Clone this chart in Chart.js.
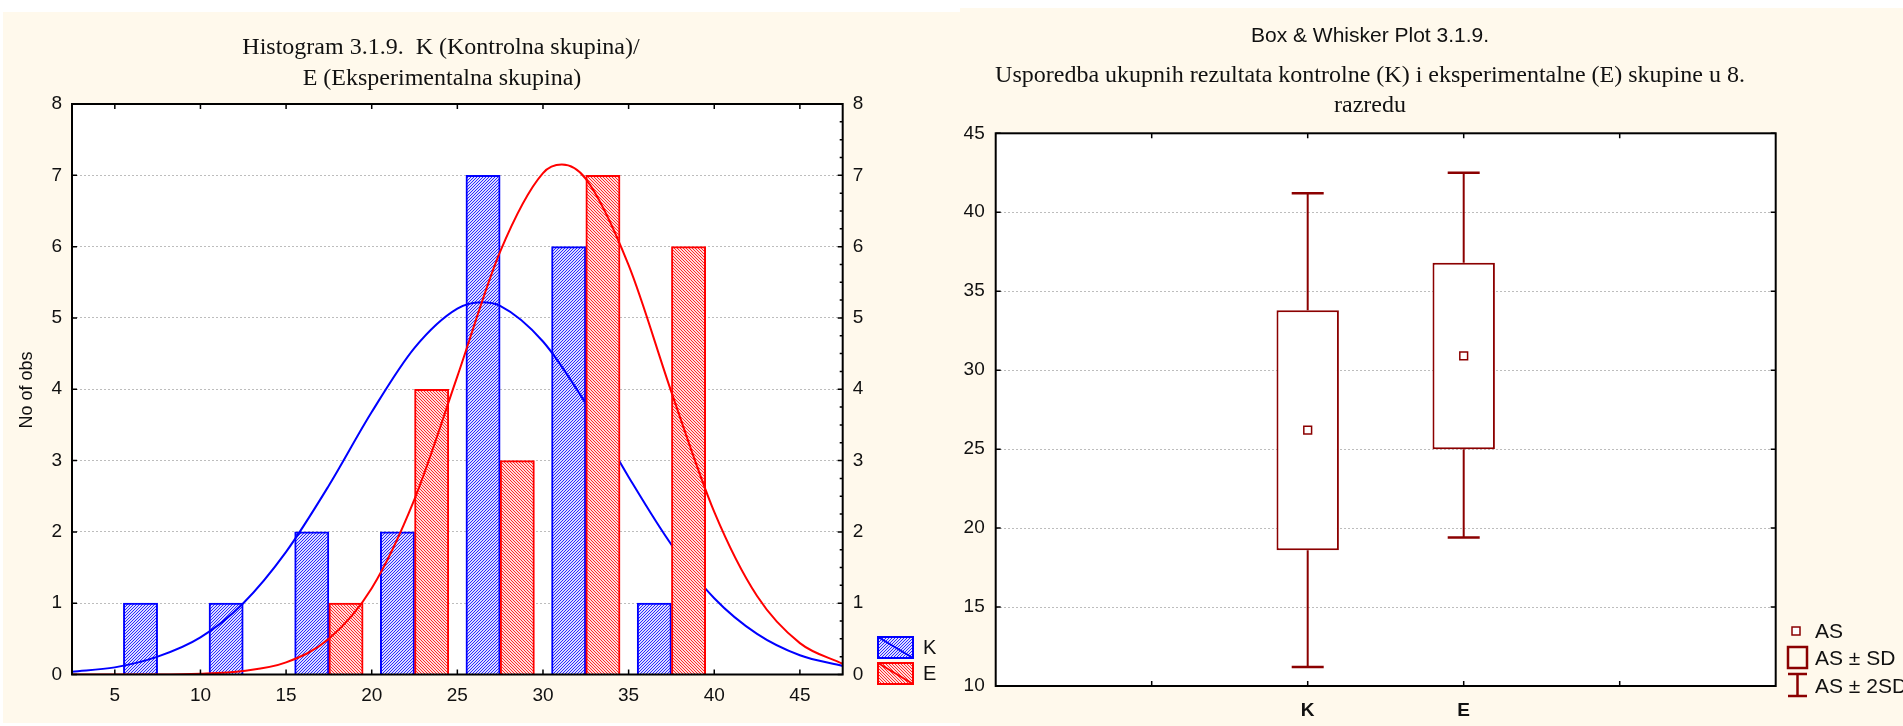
<!DOCTYPE html>
<html>
<head>
<meta charset="utf-8">
<script src="https://cdn.jsdelivr.net/npm/chart.js@4.4.1/dist/chart.umd.min.js"></script>
<style>
  html, body { margin: 0; padding: 0; background: #fff; }
  body { width: 1903px; height: 726px; position: relative; overflow: hidden; }
  .panel { position: absolute; background: #fff9ec; }
  canvas { position: absolute; }
</style>
</head>
<body>
<div class="panel" style="left:3px;top:12px;width:957px;height:711px"></div>
<div class="panel" style="left:960px;top:8px;width:943px;height:718px"></div>
<canvas id="hist" width="960" height="726" style="left:0;top:0"></canvas>
<canvas id="box" width="943" height="726" style="left:960px;top:0"></canvas>
<script>
// histogram: counts per 5-point bin
const binCenters = [7.5, 12.5, 17.5, 22.5, 27.5, 32.5, 37.5];
const kCounts = [1, 1, 2, 2, 7, 6, 1];
const eCounts = [0, 0, 1, 4, 3, 7, 6];
const barUnits = 2; // each group's bar covers 2 points, K left of the bin centre, E right

// fitted normal curves
const kCurveX = [2.5, 5, 7.5, 10, 12.5, 15, 17.5, 20, 22.5, 25, 26.4, 27.5, 30, 32.5, 35, 37.5, 40, 42.5, 45, 47.5];
const kCurveY = [0.04, 0.10, 0.25, 0.52, 1.00, 1.72, 2.65, 3.68, 4.58, 5.13, 5.22, 5.17, 4.67, 3.80, 2.77, 1.82, 1.07, 0.57, 0.27, 0.12];
const eCurveX = [2.5, 5, 7.5, 10, 12.5, 15, 17.5, 20, 22.5, 25, 27.5, 30, 31.1, 32.5, 35, 37.5, 40, 42.5, 45, 47.5];
const eCurveY = [0, 0, 0, 0.01, 0.05, 0.17, 0.50, 1.21, 2.46, 4.18, 5.93, 7.03, 7.15, 6.95, 5.74, 3.96, 2.28, 1.10, 0.44, 0.15];

const histXTicks = [5, 10, 15, 20, 25, 30, 35, 40, 45];
const histYTicks = [0, 1, 2, 3, 4, 5, 6, 7, 8];

// box & whisker: mean, mean +/- SD, mean +/- 2SD
const groupLabels = ['K', 'E'];
const groupPos = [2, 3];
const meanVals = [26.2, 30.9];
const sdLow = [18.6, 25.0];
const sdHigh = [33.8, 36.8];
const sd2Low = [11.2, 19.4];
const sd2High = [41.2, 42.5];
const boxYTicks = [10, 15, 20, 25, 30, 35, 40, 45];
const boxXTicks = [1, 2, 3, 4];

Chart.defaults.font.family = '"Liberation Sans", Arial, sans-serif';
Chart.defaults.color = '#111';

const DARK_RED = '#8b0000';

function hatch(bg, fg, forward) {
  const c = document.createElement('canvas');
  c.width = 3; c.height = 3;
  const g = c.getContext('2d');
  g.fillStyle = bg; g.fillRect(0, 0, 3, 3);
  g.fillStyle = fg;
  for (let i = 0; i < 3; i++) g.fillRect(forward ? 2 - i : i, i, 1, 1);
  return g.createPattern(c, 'repeat');
}
const bluePat = hatch('#dcdcff', '#2a2aff', true);
const redPat = hatch('#ffdcdc', '#ff2a2a', false);

function drawFrame(chart, xVals, yVals, yRight, minorStep) {
  const { ctx, chartArea: a, scales } = chart;
  ctx.save();
  ctx.strokeStyle = '#000';
  ctx.lineWidth = 1.5;
  ctx.beginPath();
  xVals.forEach(v => {
    const px = scales.x.getPixelForValue(v);
    ctx.moveTo(px, a.top); ctx.lineTo(px, a.top + 5);
    ctx.moveTo(px, a.bottom); ctx.lineTo(px, a.bottom - 5);
  });
  yVals.forEach(v => {
    const py = scales.y.getPixelForValue(v);
    ctx.moveTo(a.left, py); ctx.lineTo(a.left + 5, py);
    if (yRight) { ctx.moveTo(a.right, py); ctx.lineTo(a.right - 5, py); }
  });
  if (minorStep) {
    for (let v = scales.y.min; v <= scales.y.max; v += minorStep) {
      const py = scales.y.getPixelForValue(v);
      ctx.moveTo(a.right, py); ctx.lineTo(a.right - (v % 1 === 0 ? 5 : 3), py);
    }
  }
  ctx.stroke();
  ctx.lineWidth = 2;
  ctx.strokeRect(a.left, a.top, a.right - a.left, a.bottom - a.top);
  ctx.restore();
}

const whiteArea = {
  id: 'whiteArea',
  beforeDraw(chart) {
    const { ctx, chartArea: a } = chart;
    ctx.save();
    ctx.fillStyle = '#fff';
    ctx.fillRect(a.left, a.top, a.right - a.left, a.bottom - a.top);
    ctx.restore();
  }
};

// ---------- histogram ----------
const histDecor = {
  id: 'histDecor',
  afterDraw(chart) {
    drawFrame(chart, histXTicks, histYTicks, false, 0.25);
    const ctx = chart.ctx;
    ctx.save();
    ctx.fillStyle = '#111';
    ctx.textAlign = 'center';
    ctx.textBaseline = 'alphabetic';
    ctx.font = '24px "Liberation Serif", "Times New Roman", serif';
    ctx.fillText('Histogram 3.1.9.  K (Kontrolna skupina)/', 441, 54);
    ctx.fillText('E (Eksperimentalna skupina)', 442, 85);

    ctx.font = '18px "Liberation Sans", Arial, sans-serif';
    ctx.textBaseline = 'middle';
    ctx.translate(27, 390);
    ctx.rotate(-Math.PI / 2);
    ctx.fillText('No of obs', 0, 0);
    ctx.restore();

    // legend
    const items = [
      { ds: chart.data.datasets[0], y: 637 },
      { ds: chart.data.datasets[2], y: 663 }
    ];
    ctx.save();
    items.forEach(it => {
      const x = 878, w = 35, h = 21;
      ctx.fillStyle = it.ds.backgroundColor;
      ctx.fillRect(x, it.y, w, h);
      ctx.strokeStyle = it.ds.borderColor;
      ctx.lineWidth = 2;
      ctx.strokeRect(x, it.y, w, h);
      ctx.beginPath();
      ctx.moveTo(x, it.y); ctx.lineTo(x + w, it.y + h);
      ctx.stroke();
      ctx.fillStyle = '#111';
      ctx.font = '20px "Liberation Sans", Arial, sans-serif';
      ctx.textBaseline = 'middle';
      ctx.fillText(it.ds.label, x + w + 10, it.y + h / 2 + 1);
    });
    ctx.restore();
  }
};

new Chart(document.getElementById('hist'), {
  type: 'bar',
  data: {
    datasets: [
      {
        label: 'K',
        data: binCenters.map((c, i) => ({ x: c - barUnits / 2, y: kCounts[i] })),
        backgroundColor: bluePat,
        borderColor: '#0000ff',
        borderWidth: 2,
        grouped: false,
        categoryPercentage: 1.0,
        barPercentage: 1.0,
        order: 4
      },
      {
        type: 'line',
        label: 'K curve',
        data: kCurveX.map((x, i) => ({ x: x, y: kCurveY[i] })),
        borderColor: '#0000ff',
        borderWidth: 2,
        pointRadius: 0,
        cubicInterpolationMode: 'monotone',
        fill: false,
        order: 3
      },
      {
        label: 'E',
        data: binCenters.map((c, i) => ({ x: c + barUnits / 2, y: eCounts[i] })),
        backgroundColor: redPat,
        borderColor: '#ff0000',
        borderWidth: 2,
        grouped: false,
        categoryPercentage: 1.0,
        barPercentage: 1.0,
        order: 2
      },
      {
        type: 'line',
        label: 'E curve',
        data: eCurveX.map((x, i) => ({ x: x, y: eCurveY[i] })),
        borderColor: '#ff0000',
        borderWidth: 2,
        pointRadius: 0,
        cubicInterpolationMode: 'monotone',
        fill: false,
        order: 1
      }
    ]
  },
  options: {
    responsive: false,
    animation: false,
    devicePixelRatio: 1,
    layout: { padding: { top: 104, left: 0, right: 0, bottom: 0 } },
    plugins: { legend: { display: false }, tooltip: { enabled: false }, title: { display: false } },
    scales: {
      x: {
        type: 'linear',
        min: 2.5,
        max: 47.5,
        offset: false,
        afterBuildTicks: s => { s.ticks = histXTicks.map(v => ({ value: v })); },
        afterFit: s => { s.height = 51.5; },
        grid: { display: false, offset: false, drawTicks: false },
        border: { display: false },
        ticks: { padding: 10, font: { size: 19 }, maxRotation: 0 }
      },
      y: {
        position: 'left',
        min: 0,
        max: 8,
        afterBuildTicks: s => { s.ticks = histYTicks.map(v => ({ value: v })); },
        afterFit: s => { s.width = 72; },
        grid: { color: '#bdbdbd', lineWidth: 1, drawTicks: false },
        border: { display: false, dash: [2, 2] },
        ticks: { padding: 10, font: { size: 19 } }
      },
      y2: {
        position: 'right',
        min: 0,
        max: 8,
        afterBuildTicks: s => { s.ticks = histYTicks.map(v => ({ value: v })); },
        afterFit: s => { s.width = 117.3; },
        grid: { display: false, drawTicks: false },
        border: { display: false },
        ticks: { padding: 10, font: { size: 19 } }
      }
    }
  },
  plugins: [whiteArea, histDecor]
});

// ---------- box & whisker ----------
const whiskerData = [];
const capData = [];
groupPos.forEach((p, i) => {
  whiskerData.push({ x: p, y: sdHigh[i] }, { x: p, y: sd2High[i] }, { x: p, y: null });
  whiskerData.push({ x: p, y: sdLow[i] }, { x: p, y: sd2Low[i] }, { x: p, y: null });
  capData.push({ x: p, y: sd2High[i] }, { x: p, y: sd2Low[i] });
});

const boxDecor = {
  id: 'boxDecor',
  afterDraw(chart) {
    drawFrame(chart, boxXTicks, boxYTicks, true, 0);
    const ctx = chart.ctx;
    ctx.save();
    ctx.fillStyle = '#111';
    ctx.textAlign = 'center';
    ctx.textBaseline = 'alphabetic';
    ctx.font = '21px "Liberation Sans", Arial, sans-serif';
    ctx.fillText('Box & Whisker Plot 3.1.9.', 410, 42);
    ctx.font = '24px "Liberation Serif", "Times New Roman", serif';
    ctx.fillText('Usporedba ukupnih rezultata kontrolne (K) i eksperimentalne (E) skupine u 8.', 410, 82);
    ctx.fillText('razredu', 410, 112);

    // legend
    ctx.strokeStyle = DARK_RED;
    ctx.fillStyle = '#fff';
    ctx.lineWidth = 1.5;
    ctx.fillRect(832, 627, 8, 8);
    ctx.strokeRect(832, 627, 8, 8);
    ctx.lineWidth = 2.5;
    ctx.strokeRect(828, 647, 19, 21);
    ctx.beginPath();
    ctx.moveTo(837.5, 674); ctx.lineTo(837.5, 696);
    ctx.moveTo(828, 674); ctx.lineTo(847, 674);
    ctx.moveTo(828, 696); ctx.lineTo(847, 696);
    ctx.stroke();
    ctx.fillStyle = '#111';
    ctx.textAlign = 'left';
    ctx.textBaseline = 'middle';
    ctx.font = '21px "Liberation Sans", Arial, sans-serif';
    ctx.fillText('AS', 855, 632);
    ctx.fillText('AS \u00b1 SD', 855, 659);
    ctx.fillText('AS \u00b1 2SD', 855, 687);
    ctx.restore();
  }
};

new Chart(document.getElementById('box'), {
  type: 'bar',
  data: {
    datasets: [
      {
        label: 'AS \u00b1 SD',
        data: groupPos.map((p, i) => ({ x: p, y: [sdLow[i], sdHigh[i]] })),
        backgroundColor: '#fff',
        borderColor: DARK_RED,
        borderWidth: 2,
        borderSkipped: false,
        categoryPercentage: 0.4,
        barPercentage: 1.0,
        order: 3
      },
      {
        type: 'line',
        label: 'AS \u00b1 2SD',
        data: whiskerData,
        borderColor: DARK_RED,
        borderWidth: 2,
        pointRadius: 0,
        spanGaps: false,
        fill: false,
        order: 2
      },
      {
        type: 'scatter',
        label: 'caps',
        data: capData,
        pointStyle: 'line',
        pointRadius: 16,
        borderColor: DARK_RED,
        borderWidth: 2.5,
        order: 2
      },
      {
        type: 'scatter',
        label: 'AS',
        data: groupPos.map((p, i) => ({ x: p, y: meanVals[i] })),
        pointStyle: 'rect',
        pointRadius: 5.5,
        backgroundColor: '#fff',
        borderColor: DARK_RED,
        borderWidth: 1.5,
        order: 1
      }
    ]
  },
  options: {
    responsive: false,
    animation: false,
    devicePixelRatio: 1,
    layout: { padding: { top: 133.3, left: 0, right: 0, bottom: 0 } },
    plugins: { legend: { display: false }, tooltip: { enabled: false }, title: { display: false } },
    scales: {
      x: {
        type: 'linear',
        min: 0,
        max: 5,
        offset: false,
        afterBuildTicks: s => { s.ticks = groupPos.map(v => ({ value: v })); },
        afterFit: s => { s.height = 40; },
        grid: { display: false, offset: false, drawTicks: false },
        border: { display: false },
        ticks: {
          padding: 13,
          font: { size: 19, weight: 'bold' },
          maxRotation: 0,
          callback: v => groupLabels[groupPos.indexOf(v)] || ''
        }
      },
      y: {
        position: 'left',
        min: 10,
        max: 45,
        afterBuildTicks: s => { s.ticks = boxYTicks.map(v => ({ value: v })); },
        afterFit: s => { s.width = 35.7; },
        grid: { color: '#bdbdbd', lineWidth: 1, drawTicks: false },
        border: { display: false, dash: [2, 2] },
        ticks: { padding: 11, font: { size: 19 } }
      },
      y2: {
        position: 'right',
        min: 10,
        max: 45,
        afterFit: s => { s.width = 127.3; },
        grid: { display: false, drawTicks: false },
        border: { display: false },
        ticks: { display: false }
      }
    }
  },
  plugins: [whiteArea, boxDecor]
});
</script>
</body>
</html>
